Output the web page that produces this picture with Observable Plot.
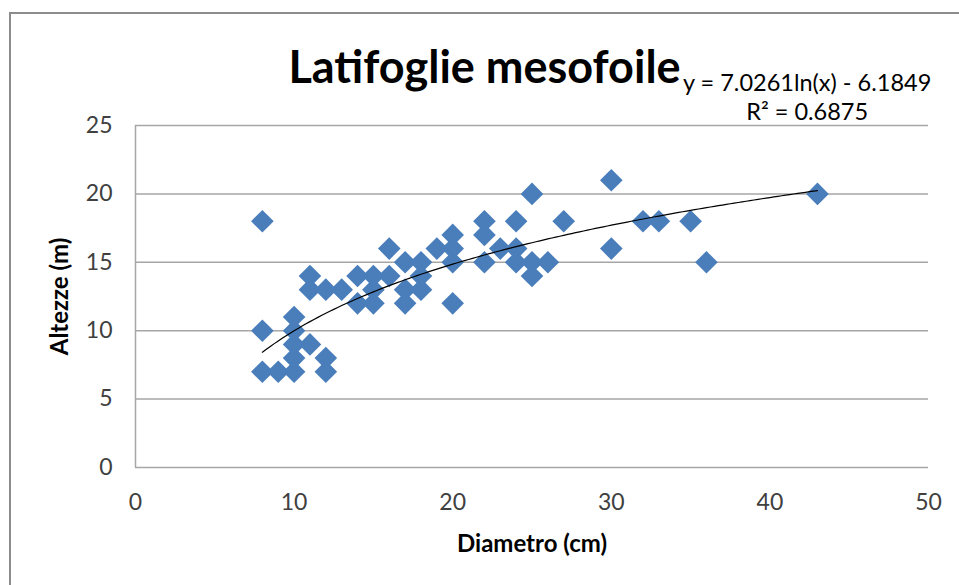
<!DOCTYPE html>
<html>
<head>
<meta charset="utf-8">
<script src="https://cdn.jsdelivr.net/npm/d3@7"></script>
<script src="https://cdn.jsdelivr.net/npm/@observablehq/plot@0.6"></script>
<style>
  html, body { margin: 0; padding: 0; background: #fff; }
  #wrap { position: relative; width: 959px; height: 585px; overflow: hidden; font-family: Lato, "Open Sans", sans-serif; }
  #frame { position: absolute; left: 9px; top: 12px; width: 1000px; height: 700px; border-left: 2px solid #8c8c8c; border-top: 2px solid #8c8c8c; box-sizing: border-box; }
  #chart { position: absolute; left: 0; top: 0; }
  #title { position: absolute; left: 0; width: 959px; top: 39px; text-align: center; font-weight: bold; font-size: 45px; color: #000; letter-spacing: 0px; }
  #title span { position: relative; left: 5px; }
  #eq { position: absolute; left: 683px; top: 68px; font-size: 23.5px; color: #000; line-height: 29px; text-align: center; white-space: nowrap; }
</style>
</head>
<body>
<div id="wrap">
  <div id="frame"></div>
  <div id="chart"></div>
  <div id="title"><span>Latifoglie mesofoile</span></div>
  <div id="eq"></div>
</div>
<script>
// Data
const diametro = [8, 8, 8, 9, 10, 10, 10, 10, 10, 11, 11, 11, 12, 12, 12, 13, 14, 14, 15, 15, 15, 16, 16, 17, 17, 17, 18, 18, 18, 19, 20, 20, 20, 20, 22, 22, 22, 23, 24, 24, 24, 25, 25, 25, 26, 27, 30, 30, 32, 33, 35, 36, 43];
const altezze  = [18, 10, 7, 7, 11, 10, 9, 8, 7, 14, 13, 9, 13, 8, 7, 13, 14, 12, 14, 13, 12, 16, 14, 15, 13, 12, 15, 14, 13, 16, 17, 16, 15, 12, 18, 17, 15, 16, 18, 16, 15, 20, 15, 14, 15, 18, 21, 16, 18, 18, 18, 15, 20];
const xTicks = [0, 10, 20, 30, 40, 50];
const yTicks = [0, 5, 10, 15, 20, 25];
// Logarithmic trendline shown on the chart: y = a ln(x) + b
const trendA = 7.0261;
const trendB = -6.1849;
const r2 = 0.6875;
const titleText = "Latifoglie mesofoile";
const xLabel = "Diametro (cm)";
const yLabel = "Altezze (m)";

const points = diametro.map((d, i) => ({d, h: altezze[i]}));
const xMin = d3.min(diametro), xMax = d3.max(diametro);
const trend = d3.range(xMin, xMax + 0.001, 0.25).map(x => ({d: x, h: trendA * Math.log(x) + trendB}));

const chart = Plot.plot({
  width: 959,
  height: 585,
  marginLeft: 135,
  marginRight: 31,
  marginTop: 125,
  marginBottom: 118,
  style: {fontFamily: "Lato, 'Open Sans', sans-serif", fontSize: "23px", color: "#404040", background: "transparent"},
  x: {domain: [0, 50]},
  y: {domain: [0, 25]},
  marks: [
    Plot.gridY(yTicks.filter(t => t > 0), {stroke: "#a6a6a6", strokeOpacity: 1, strokeWidth: 1.5}),
    Plot.ruleX([0], {stroke: "#a6a6a6", strokeWidth: 1.5}),
    Plot.ruleY([0], {stroke: "#a6a6a6", strokeWidth: 1.5}),
    Plot.axisY(yTicks, {tickSize: 0, tickPadding: 23, label: yLabel, labelAnchor: "center", labelArrow: "none", labelOffset: 85, fill: "#404040"}),
    Plot.axisX(xTicks, {tickSize: 0, tickPadding: 26, label: xLabel, labelAnchor: "center", labelArrow: "none", labelOffset: 84, fill: "#404040"}),
    Plot.dot(points, {x: "d", y: "h", symbol: "diamond2", r: 10.2, fill: "#4a7ebb", stroke: "none"}),
    Plot.line(trend, {x: "d", y: "h", stroke: "#000", strokeWidth: 1.2, curve: "linear"})
  ]
});
document.getElementById("chart").appendChild(chart);

// bold axis labels
chart.querySelectorAll("g[aria-label='y-axis label'] text, g[aria-label='x-axis label'] text").forEach(t => {
  t.setAttribute("font-weight", "bold");
  t.setAttribute("fill", "#000");
  t.setAttribute("font-size", "24px");
});

document.getElementById("title").firstChild.textContent = titleText;
document.getElementById("eq").innerHTML =
  `y = ${trendA.toFixed(4)}ln(x) - ${Math.abs(trendB).toFixed(4)}<br>R² = ${r2.toFixed(4)}`;
</script>
</body>
</html>
